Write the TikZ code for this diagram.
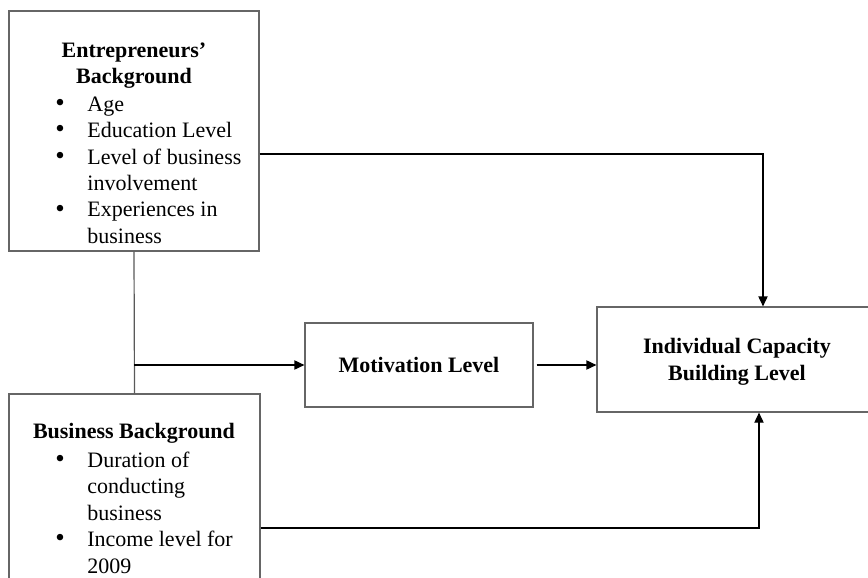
\documentclass[tikz,border=0pt]{standalone}
\usepackage{fontspec}
\setmainfont{Liberation Serif}
\usepackage{tikz}
\usetikzlibrary{arrows.meta,positioning,calc}
\tikzset{
  box/.style={draw=gray!80!black,line width=0.6pt,inner sep=0pt},
  txt/.style={inner sep=0pt,font=\fontsize{11}{13.25}\selectfont},
  link/.style={draw=gray!70!black,line width=0.6pt},
  every node/.style={font=\fontsize{11}{13.25}\selectfont}
}
\tikzstyle{arrow} = [line width=0.6pt,-{Triangle[length=5pt,width=4.6pt]}]
\newcommand{\bul}{\smash{\raisebox{-0.2pt}{\fontsize{13.5}{11}\selectfont\textbullet}}}

\begin{document}
\begin{tikzpicture}[x=0.5pt,y=-0.5pt,line cap=butt,line join=miter]
  % --- Window and clip ---
  \clip (0,0) rectangle (868,578);
  \fill[white] (0,0) rectangle (868,578);

  % --- Boxes ---
  \node[box,minimum width=125pt,minimum height=120pt] (eb) at (134,131) {};
  \node[box,minimum width=125.5pt,minimum height=113pt] (bb) at (134.5,507) {};
  \node[box,minimum width=114pt,minimum height=42pt] (mot) at (419,365) {};
  \node[box,minimum width=141.5pt,minimum height=52.5pt] (icb) at (738.5,359.5) {};

  % --- Entrepreneurs' background ---
  \node[txt,anchor=base] (ebtitle) at (134,57)
    {\begin{tabular}[t]{@{}c@{}}\textbf{Entrepreneurs’}\\\textbf{Background}\end{tabular}};
  \node[txt,anchor=base west] (eblist) at (55,111)
    {\begin{tabular}[t]{@{}p{16pt}@{}l@{}}
      \bul & Age\\
      \bul & Education Level\\
      \bul & Level of business\\
           & involvement\\
      \bul & Experiences in\\
           & business
    \end{tabular}};

  % --- Business background ---
  \node[txt,anchor=base] (bbtitle) at (134,438) {\textbf{Business Background}};
  \node[txt,anchor=base west] (bblist) at (55,467)
    {\begin{tabular}[t]{@{}p{16pt}@{}l@{}}
      \bul & Duration of\\
           & conducting\\
           & business\\
      \bul & Income level for\\
           & 2009
    \end{tabular}};

  % --- Middle and right ---
  \node[txt] (mottext) at (mot) {\textbf{Motivation Level}};
  \node[txt,align=center] (icbtext) at (737,362)
    {\textbf{Individual Capacity}\\\textbf{Building Level}};

  % --- Connectors ---
  \coordinate (split) at (eb.south |- mot.west);
  \draw[link] (eb.south) -- (bb.north);
  \draw[arrow] (split) -- (mot.west);
  \draw[arrow] ([xshift=1.5pt]mot.east) -- (mot.east -| icb.west);
  \draw[arrow] ([yshift=-11.5pt]eb.east) -| ([xshift=12.25pt]icb.north);
  \draw[arrow] ([yshift=-10.5pt]bb.east) -| ([xshift=10.25pt]icb.south);
\end{tikzpicture}
\end{document}
